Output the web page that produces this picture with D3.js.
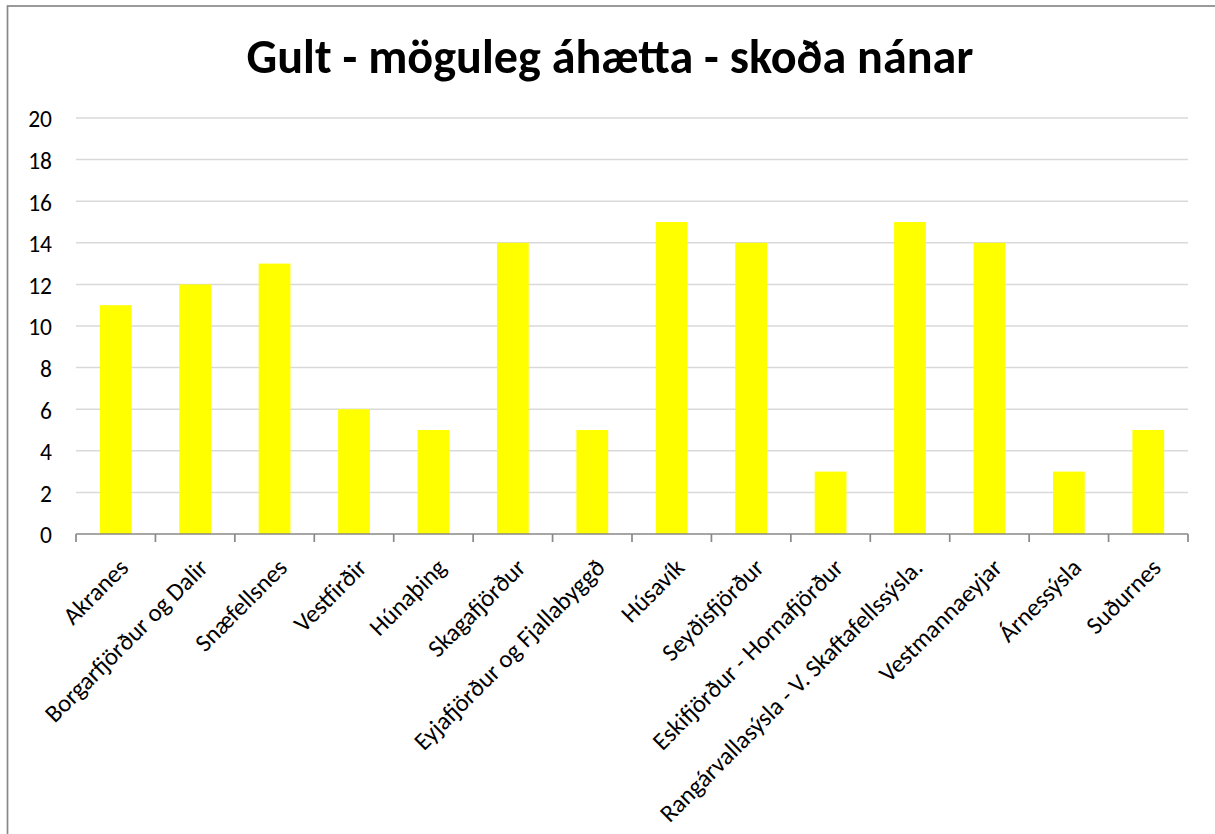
<!DOCTYPE html>
<html>
<head>
<meta charset="utf-8">
<script src="https://cdn.jsdelivr.net/npm/d3@7"></script>
<style>
    body { margin: 0; background: #fff; }
    svg { display: block; font-family: Carlito, Calibri, Lato, sans-serif; }
</style>
</head>
<body>
<div id="chart"></div>
<script>
// Chart data
const titleText = "Gult - möguleg áhætta - skoða nánar";
const regions = [
    "Akranes", "Borgarfjörður og Dalir", "Snæfellsnes", "Vestfirðir", "Húnaþing",
    "Skagafjörður", "Eyjafjörður og Fjallabyggð", "Húsavík", "Seyðisfjörður",
    "Eskifjörður - Hornafjörður", "Rangárvallasýsla - V. Skaftafellssýsla.",
    "Vestmannaeyjar", "Árnessýsla", "Suðurnes"
];
const counts = [11, 12, 13, 6, 5, 14, 5, 15, 14, 3, 15, 14, 3, 5];
const yTicks = [0, 2, 4, 6, 8, 10, 12, 14, 16, 18, 20];

const width = 1215, height = 834;
const margin = { top: 118, right: 27, bottom: 300, left: 76 };

const svg = d3.select("#chart").append("svg")
    .attr("width", width)
    .attr("height", height);

// chart frame (only the left/top edges are visible in the crop)
svg.append("rect")
    .attr("x", 7.5).attr("y", 6)
    .attr("width", 1400).attr("height", 1000)
    .attr("fill", "none")
    .attr("stroke", "#898989")
    .attr("stroke-width", 1.7);

const x = d3.scaleBand()
    .domain(regions)
    .range([margin.left, width - margin.right])
    .paddingInner(0.6)
    .paddingOuter(0.3);

const y = d3.scaleLinear()
    .domain([0, 20])
    .range([height - margin.bottom, margin.top]);

// gridlines
svg.append("g")
    .selectAll("line")
    .data(yTicks.filter(d => d > 0))
    .join("line")
    .attr("x1", margin.left).attr("x2", width - margin.right)
    .attr("y1", d => y(d)).attr("y2", d => y(d))
    .attr("stroke", "#d9d9d9")
    .attr("stroke-width", 1.5);

// y labels
svg.append("g")
    .selectAll("text")
    .data(yTicks)
    .join("text")
    .attr("x", margin.left - 24)
    .attr("y", d => y(d))
    .attr("dy", "0.4em")
    .attr("text-anchor", "end")
    .attr("font-size", 23.5)
    .attr("fill", "#000")
    .text(d => d);

// bars
svg.append("g")
    .selectAll("rect")
    .data(counts)
    .join("rect")
    .attr("x", (d, i) => x(regions[i]))
    .attr("width", x.bandwidth())
    .attr("y", d => y(d))
    .attr("height", d => y(0) - y(d))
    .attr("fill", "#ffff00");

// x axis line and ticks at category boundaries
const edges = d3.range(regions.length + 1).map(i => margin.left + i * (width - margin.right - margin.left) / regions.length);
const xAxis = svg.append("g");
xAxis.append("line")
    .attr("x1", margin.left).attr("x2", width - margin.right)
    .attr("y1", y(0)).attr("y2", y(0))
    .attr("stroke", "#898989")
    .attr("stroke-width", 1.7);
xAxis.selectAll("line.tick")
    .data(edges)
    .join("line")
    .attr("class", "tick")
    .attr("x1", d => d).attr("x2", d => d)
    .attr("y1", y(0)).attr("y2", y(0) + 8)
    .attr("stroke", "#898989")
    .attr("stroke-width", 1.7);

// rotated category labels
const labels = svg.append("g")
    .selectAll("text")
    .data(regions)
    .join("text")
    .attr("transform", d => `translate(${x(d) + x.bandwidth() / 2 + 8},${y(0) + 29}) rotate(-45)`)
    .attr("text-anchor", "end")
    .attr("dy", "0.35em")
    .attr("font-size", 23)
    .attr("fill", "#000")
    .text(d => d);

// match the longest label's length in the reference (~360px)
const longest = labels.filter((d, i) => i === 10).node().getComputedTextLength();
labels.attr("font-size", 23 * 360 / longest);

// title, sized to the reference's width
const title = svg.append("text")
    .attr("x", 610)
    .attr("y", 73)
    .attr("text-anchor", "middle")
    .attr("font-weight", "bold")
    .attr("font-size", 46)
    .attr("fill", "#000")
    .text(titleText);
const tw = title.node().getComputedTextLength();
title.attr("font-size", 46 * 727 / tw);
</script>
</body>
</html>
